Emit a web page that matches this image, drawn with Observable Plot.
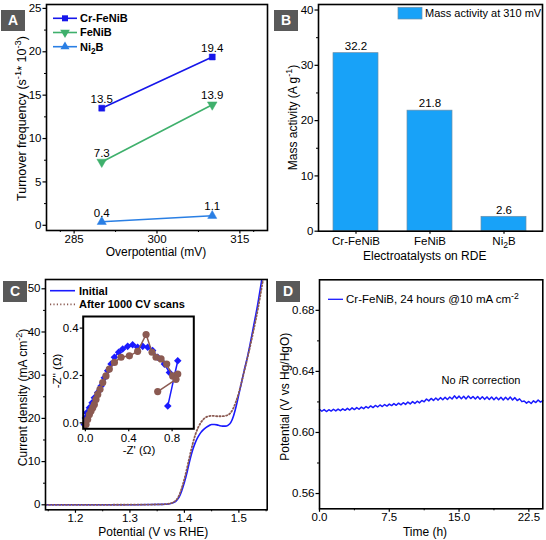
<!DOCTYPE html>
<html>
<head>
<meta charset="utf-8">
<script src="https://cdn.jsdelivr.net/npm/d3@7"></script>
<script src="https://cdn.jsdelivr.net/npm/@observablehq/plot@0.6"></script>
<style>
  body { margin: 0; background: #fff; }
  #fig { position: relative; width: 546px; height: 540px; overflow: hidden;
         font-family: "Liberation Sans", Arial, Helvetica, sans-serif; }
  .tag { position: absolute; width: 24px; height: 21px; background: #595959; color: #fff;
         font: bold 14px "Liberation Sans", Arial, sans-serif; text-align: center; line-height: 21px; }
</style>
</head>
<body>
<div id="fig"></div>
<script>
// ---------- A: turnover frequency vs overpotential ----------
const overpotentials = [290, 310];
const tofCrFeNiB = [13.5, 19.4];
const tofFeNiB = [7.3, 13.9];
const tofNi2B = [0.4, 1.1];
const tofTicks = [0, 5, 10, 15, 20, 25];
const overpotentialTicks = [285, 300, 315];

// ---------- B: mass activity at 310 mV ----------
const catalysts = ["Cr-FeNiB", "FeNiB", "Ni₂B"];
const massActivity = [32.2, 21.8, 2.6];
const massTicks = [0, 10, 20, 30, 40];

// ---------- C: polarization curves before / after cycling ----------
const lsvPotential = [1.145, 1.2, 1.25, 1.3, 1.34, 1.36, 1.37, 1.375, 1.38, 1.385, 1.39, 1.395, 1.4, 1.405, 1.41,
  1.415, 1.42, 1.425, 1.43, 1.435, 1.44, 1.445, 1.45, 1.455, 1.46, 1.465, 1.47, 1.475, 1.48, 1.485, 1.49,
  1.495, 1.5, 1.505, 1.51, 1.515, 1.52, 1.525, 1.53, 1.535, 1.54, 1.545, 1.55, 1.555];
const lsvInitial = [0, 0, 0, 0.02, 0.05, 0.1, 0.2, 0.3, 0.5, 0.9, 1.7, 3.2, 5.2, 7.6, 10.3,
  12.6, 14.4, 15.7, 16.7, 17.4, 17.9, 18.3, 18.6, 18.6, 18.5, 18.3, 18.2, 18.2, 18.4, 19.0, 20.5,
  22.8, 25.6, 28.4, 31.2, 33.8, 36.8, 40.0, 43.3, 46.7, 50.5, 54.5, 58.5, 62.5];
const lsvAfter = [0, 0, 0, 0.02, 0.06, 0.12, 0.22, 0.35, 0.6, 1.1, 2.1, 3.8, 6.0, 8.6, 11.4,
  14.0, 16.2, 17.8, 19.0, 19.8, 20.3, 20.5, 20.6, 20.6, 20.5, 20.5, 20.5, 20.6, 20.8, 21.3, 22.4,
  24.0, 26.0, 28.4, 31.0, 33.6, 36.3, 39.2, 42.2, 45.4, 48.9, 52.6, 56.5, 60.5];
const potentialTicks = [1.2, 1.3, 1.4, 1.5];
const currentTicks = [0, 10, 20, 30, 40, 50];

// inset: Nyquist plots (-Z' vs -Z'')
const zReInitial = [-0.01, 0.0, 0.012, 0.037, 0.062, 0.083, 0.114, 0.145, 0.175, 0.206, 0.237, 0.268, 0.307,
  0.344, 0.39, 0.436, 0.482, 0.529, 0.575, 0.62, 0.667, 0.729, 0.775, 0.82, 0.852, 0.76];
const zImInitial = [-0.007, 0.021, 0.043, 0.064, 0.085, 0.106, 0.128, 0.156, 0.19, 0.22, 0.248, 0.277, 0.298,
  0.312, 0.323, 0.33, 0.319, 0.323, 0.319, 0.305, 0.277, 0.248, 0.213, 0.198, 0.262, 0.071];
const zReAfter = [0.006, 0.021, 0.037, 0.052, 0.068, 0.083, 0.098, 0.114, 0.135, 0.16, 0.19, 0.221, 0.268,
  0.329, 0.406, 0.482, 0.56, 0.615, 0.652, 0.698, 0.75, 0.805, 0.852, 0.836, 0.667];
const zImAfter = [-0.007, 0.014, 0.035, 0.05, 0.064, 0.078, 0.099, 0.12, 0.142, 0.17, 0.198, 0.227, 0.255,
  0.277, 0.283, 0.302, 0.373, 0.298, 0.277, 0.27, 0.248, 0.198, 0.206, 0.184, 0.132];
const zReTicks = [0, 0.4, 0.8];
const zImTicks = [0, 0.2, 0.4];

// ---------- D: chronopotentiometry at 10 mA cm-2 ----------
const timeHours = [0, 0.25, 0.5, 0.75, 1, 1.25, 1.5, 1.75, 2, 2.25, 2.5, 2.75, 3, 3.25, 3.5, 3.75,
  4, 4.25, 4.5, 4.75, 5, 5.25, 5.5, 5.75, 6, 6.25, 6.5, 6.75, 7, 7.25, 7.5, 7.75,
  8, 8.25, 8.5, 8.75, 9, 9.25, 9.5, 9.75, 10, 10.25, 10.5, 10.75, 11, 11.25, 11.5, 11.75,
  12, 12.25, 12.5, 12.75, 13, 13.25, 13.5, 13.75, 14, 14.25, 14.5, 14.75, 15, 15.25, 15.5, 15.75,
  16, 16.25, 16.5, 16.75, 17, 17.25, 17.5, 17.75, 18, 18.25, 18.5, 18.75, 19, 19.25, 19.5, 19.75,
  20, 20.25, 20.5, 20.75, 21, 21.25, 21.5, 21.75, 22, 22.25, 22.5, 22.75, 23, 23.25, 23.5, 23.75, 24];
const potentialHgO = [
  0.6151, 0.6139, 0.6150, 0.6137, 0.6149, 0.6140, 0.6152, 0.6141, 0.6153,
  0.6143, 0.6155, 0.6145, 0.6158, 0.6147, 0.6161, 0.6150, 0.6163, 0.6152, 0.6166, 0.6156, 0.6170,
  0.6160, 0.6174, 0.6163, 0.6177, 0.6167, 0.6180, 0.6170, 0.6183, 0.6173, 0.6186, 0.6176, 0.6189,
  0.6178, 0.6192, 0.6181, 0.6195, 0.6184, 0.6199, 0.6187, 0.6202, 0.6190, 0.6205, 0.6194, 0.6210,
  0.6201, 0.6219, 0.6207, 0.6223, 0.6210, 0.6226, 0.6212, 0.6228, 0.6214, 0.6230, 0.6216, 0.6232,
  0.6219, 0.6240, 0.6222, 0.6238, 0.6221, 0.6237, 0.6220, 0.6239, 0.6222, 0.6236, 0.6219, 0.6235,
  0.6218, 0.6234, 0.6217, 0.6233, 0.6216, 0.6232, 0.6215, 0.6231, 0.6214, 0.6230, 0.6213, 0.6231,
  0.6215, 0.6232, 0.6213, 0.6228, 0.6209, 0.6220, 0.6202, 0.6206, 0.6192, 0.6203, 0.6190, 0.6207,
  0.6196, 0.6213, 0.6199, 0.6209];
const timeTicks = [0, 7.5, 15, 22.5];
const potentialHgOTicks = [0.56, 0.60, 0.64, 0.68];

// ---------- shared helpers ----------
const FONT = '"Liberation Sans", Arial, Helvetica, sans-serif';
const BLUE = "#1a1aff";
const BROWN = "#8b5a52";
const fig = document.getElementById("fig");
const baseStyle = {fontFamily: FONT, fontSize: "11.5px", color: "#000", background: "transparent", overflow: "visible"};

function mount(node, left, top) {
  node.style.position = "absolute";
  node.style.left = left + "px";
  node.style.top = top + "px";
  fig.appendChild(node);
  return node;
}

// writes [text, kind] parts into a text element; kind: "" | "sup" | "sub" | "it"
function fillParts(t, parts, size) {
  let shift = 0;
  for (const [s, kind] of parts) {
    const target = kind === "sup" ? -0.4 * size : kind === "sub" ? 0.3 * size : 0;
    const span = t.append("tspan").text(s);
    if (target - shift !== 0) span.attr("dy", target - shift);
    if (kind === "sup" || kind === "sub") span.attr("font-size", size * 0.75);
    if (kind === "it") span.attr("font-style", "italic");
    shift = target;
  }
}

function richText(svg, {x, y, parts, size = 12, weight = "normal", anchor = "middle", rotate = 0}) {
  const t = d3.select(svg).append("text")
    .attr("transform", `translate(${x},${y}) rotate(${rotate}) translate(0,${0.35 * size})`)
    .attr("text-anchor", anchor)
    .attr("font-family", FONT).attr("font-size", size).attr("font-weight", weight).attr("fill", "#000");
  fillParts(t, parts, size);
  return t;
}

function axes({xTicks, xMinor, xFormat, yTicks, yMinor, yFormat, xPad = 2}) {
  return [
    Plot.axisX({ticks: xTicks, tickSize: 3.5, tickPadding: xPad, tickFormat: xFormat, strokeWidth: 1.2}),
    ...(xMinor ? [Plot.axisX({ticks: xMinor, tickSize: 2, tickFormat: () => "", strokeWidth: 1})] : []),
    Plot.axisY({ticks: yTicks, tickSize: 3.5, tickPadding: 1.5, tickFormat: yFormat, strokeWidth: 1.2}),
    ...(yMinor ? [Plot.axisY({ticks: yMinor, tickSize: 2, tickFormat: () => "", strokeWidth: 1})] : [])
  ];
}

function tag(letter, left, top) {
  const d = document.createElement("div");
  d.className = "tag";
  d.textContent = letter;
  d.style.left = left + "px";
  d.style.top = top + "px";
  fig.appendChild(d);
}

// downward-pointing triangle symbol
const symbolTriangleDown = {
  draw(context, size) {
    const y = -Math.sqrt(size / (Math.sqrt(3) * 3));
    context.moveTo(0, -y * 2);
    context.lineTo(-Math.sqrt(3) * y, y);
    context.lineTo(Math.sqrt(3) * y, y);
    context.closePath();
  }
};

// ---------- panel A ----------
const seriesA = [
  {label: [["Cr-FeNiB", ""]], values: tofCrFeNiB, color: "#1616ea", symbol: d3.symbolSquare, size: 36},
  {label: [["FeNiB", ""]], values: tofFeNiB, color: "#3fb06c", symbol: symbolTriangleDown, size: 40},
  {label: [["Ni", ""], ["2", "sub"], ["B", ""]], values: tofNi2B, color: "#2a7fe4", symbol: d3.symbolTriangle, size: 36}
].map(s => ({...s, rows: overpotentials.map((x, i) => ({x, y: s.values[i]}))}));

const panelA = Plot.plot({
  width: 273, height: 270,
  marginLeft: 46, marginRight: 6, marginTop: 4, marginBottom: 40,
  style: baseStyle,
  x: {domain: [280, 320], label: null},
  y: {domain: [-0.6, 25.45], label: null},
  marks: [
    ...seriesA.flatMap(s => [
      Plot.line(s.rows, {x: "x", y: "y", stroke: s.color, strokeWidth: 1.6}),
      Plot.dot(s.rows, {x: "x", y: "y", fill: s.color, stroke: s.color, strokeWidth: 0.5, symbol: s.symbol, r: Math.sqrt(s.size / Math.PI)}),
      Plot.text(s.rows, {x: "x", y: "y", text: d => d.y.toFixed(1), dy: -9, fontSize: 11.5})
    ]),
    ...axes({xTicks: overpotentialTicks, xMinor: [282.5, 292.5, 307.5, 317.5], yTicks: tofTicks,
             yMinor: [2.5, 7.5, 12.5, 17.5, 22.5], xPad: 1}),
    Plot.frame({stroke: "#000", strokeWidth: 1.6})
  ]
});
mount(panelA, 0, 0);
{
  const g = d3.select(panelA).append("g");
  seriesA.forEach((s, i) => {
    const y = 18.3 + i * 14.2;
    g.append("line").attr("x1", 53).attr("x2", 77).attr("y1", y).attr("y2", y)
      .attr("stroke", s.color).attr("stroke-width", 1.6);
    g.append("path").attr("transform", `translate(65,${y})`)
      .attr("d", d3.symbol(s.symbol, s.size)()).attr("fill", s.color);
    richText(panelA, {x: 80, y, parts: s.label, size: 11, weight: "bold", anchor: "start"});
  });
  richText(panelA, {x: 21.5, y: 118.5, rotate: -90, size: 12.5,
    parts: [["Turnover frequency (s", ""], ["-1", "sup"], ["* 10", ""], ["-3", "sup"], [")", ""]]});
  richText(panelA, {x: 156, y: 251.5, parts: [["Overpotential (mV)", ""]]});
}

// ---------- panel B ----------
const rowsB = catalysts.map((c, i) => ({c, v: massActivity[i]}));
const BAR = "#18a2f8";
const panelB = Plot.plot({
  width: 273, height: 270,
  marginLeft: 45, marginRight: 4, marginTop: 4, marginBottom: 39.3,
  style: baseStyle,
  x: {type: "band", domain: catalysts, paddingInner: 0.39, paddingOuter: 0.2, label: null},
  y: {domain: [0, 41], label: null},
  marks: [
    Plot.barY(rowsB, {x: "c", y: "v", fill: BAR, stroke: "#6c8fa8", strokeWidth: 0.7}),
    Plot.text(rowsB, {x: "c", y: "v", text: d => d.v.toFixed(1), dy: -7, fontSize: 11.5}),
    Plot.axisX({tickSize: 3, tickPadding: 2.5, strokeWidth: 1.2}),
    Plot.axisY({ticks: massTicks, tickSize: 3.5, tickPadding: 1.5, strokeWidth: 1.2}),
    Plot.axisY({ticks: [5, 15, 25, 35], tickSize: 2, tickFormat: () => "", strokeWidth: 1}),
    Plot.frame({stroke: "#000", strokeWidth: 1.6})
  ]
});
mount(panelB, 273, 0);
{
  const svg = d3.select(panelB);
  svg.selectAll("text").filter(function () { return this.textContent === "Ni₂B"; })
    .each(function () {
      const t = d3.select(this);
      t.text("");
      fillParts(t, [["Ni", ""], ["2", "sub"], ["B", ""]], 11.5);
    });
  svg.append("rect").attr("x", 125).attr("y", 7.3).attr("width", 24).attr("height", 11.7)
    .attr("fill", BAR).attr("stroke", "#6c8fa8").attr("stroke-width", 0.7);
  richText(panelB, {x: 152, y: 13.2, parts: [["Mass activity at 310 mV", ""]], size: 11, anchor: "start"});
  richText(panelB, {x: 20, y: 117.5, rotate: -90, parts: [["Mass activity (A g", ""], ["-1", "sup"], [")", ""]]});
  richText(panelB, {x: 151.7, y: 256, parts: [["Electroatalysts on RDE", ""]]});
}

// ---------- panel C ----------
const rowsInitial = lsvPotential.map((p, i) => ({p, j: lsvInitial[i]}));
const rowsAfter = lsvPotential.map((p, i) => ({p, j: lsvAfter[i]}));
const panelC = Plot.plot({
  width: 273, height: 270,
  marginLeft: 45, marginRight: 6.3, marginTop: 9, marginBottom: 30.7,
  style: baseStyle,
  x: {domain: [1.145, 1.552], label: null},
  y: {domain: [-1.16, 52.15], label: null},
  marks: [
    Plot.line(rowsInitial, {x: "p", y: "j", stroke: BLUE, strokeWidth: 1.6, curve: "monotone-x", clip: true}),
    Plot.line(rowsAfter, {x: "p", y: "j", stroke: BROWN, strokeWidth: 1.8, strokeDasharray: "1.2,2.2",
                          curve: "monotone-x", clip: true}),
    ...axes({xTicks: potentialTicks, xMinor: [1.15, 1.25, 1.35, 1.45, 1.55], xFormat: d3.format(".1f"),
             yTicks: currentTicks, yMinor: [5, 15, 25, 35, 45], xPad: 1}),
    Plot.frame({stroke: "#000", strokeWidth: 1.6})
  ]
});
mount(panelC, 0, 270);
{
  const g = d3.select(panelC).append("g");
  g.append("line").attr("x1", 50).attr("x2", 75).attr("y1", 20.7).attr("y2", 20.7)
    .attr("stroke", BLUE).attr("stroke-width", 1.6);
  g.append("line").attr("x1", 50).attr("x2", 75).attr("y1", 34.3).attr("y2", 34.3)
    .attr("stroke", BROWN).attr("stroke-width", 1.8).attr("stroke-dasharray", "1.2,2.2");
  richText(panelC, {x: 79, y: 20.7, parts: [["Initial", ""]], size: 11, weight: "bold", anchor: "start"});
  richText(panelC, {x: 79, y: 34.3, parts: [["After 1000 CV scans", ""]], size: 11, weight: "bold", anchor: "start"});
  richText(panelC, {x: 22.7, y: 127.5, rotate: -90,
    parts: [["Current density (mA cm", ""], ["-2", "sup"], [")", ""]]});
  richText(panelC, {x: 153.3, y: 261.5, parts: [["Potential (V vs RHE)", ""]]});
}

// inset Nyquist plot
const nyqInitial = zReInitial.map((x, i) => ({x, y: zImInitial[i]}));
const nyqAfter = zReAfter.map((x, i) => ({x, y: zImAfter[i]}));
const inset = Plot.plot({
  width: 146, height: 150,
  marginLeft: 30.7, marginRight: 4.7, marginTop: 6, marginBottom: 31.7,
  style: baseStyle,
  x: {domain: [-0.02, 1.0], label: null},
  y: {domain: [-0.025, 0.449], label: null},
  marks: [
    Plot.frame({fill: "#fff", stroke: null}),
    Plot.line(nyqInitial, {x: "x", y: "y", stroke: BLUE, strokeWidth: 1.5}),
    Plot.dot(nyqInitial, {x: "x", y: "y", symbol: "diamond2", fill: BLUE, r: 3.4}),
    Plot.line(nyqAfter, {x: "x", y: "y", stroke: BROWN, strokeWidth: 1.5}),
    Plot.dot(nyqAfter, {x: "x", y: "y", fill: BROWN, r: 3.6}),
    Plot.axisX({ticks: zReTicks, tickSize: 3, tickPadding: 2, tickFormat: d3.format(".1f"), strokeWidth: 1.2}),
    Plot.axisY({ticks: zImTicks, tickSize: 3, tickPadding: 1.5, tickFormat: d3.format(".1f"), strokeWidth: 1.2}),
    Plot.frame({stroke: "#000", strokeWidth: 2})
  ]
});
mount(inset, 52, 310);
richText(inset, {x: 4.5, y: 61, rotate: -90, parts: [["-Z'' (Ω)", ""]], size: 11.5});
richText(inset, {x: 87, y: 140, parts: [["-Z' (Ω)", ""]], size: 11.5});

// ---------- panel D ----------
const rowsD = timeHours.map((t, i) => ({t, e: potentialHgO[i]}));
const panelD = Plot.plot({
  width: 273, height: 270,
  marginLeft: 46, marginRight: 3.7, marginTop: 9.3, marginBottom: 31.7,
  style: baseStyle,
  x: {domain: [0, 24], label: null},
  y: {domain: [0.55, 0.70], label: null},
  marks: [
    Plot.line(rowsD, {x: "t", y: "e", stroke: BLUE, strokeWidth: 1.5}),
    ...axes({xTicks: timeTicks, xMinor: [3.75, 11.25, 18.75], xFormat: d3.format(".1f"),
             yTicks: potentialHgOTicks, yMinor: [0.58, 0.62, 0.66], yFormat: d3.format(".2f"), xPad: 1}),
    Plot.frame({stroke: "#000", strokeWidth: 1.6})
  ]
});
mount(panelD, 273, 270);
{
  d3.select(panelD).append("line").attr("x1", 55).attr("x2", 70).attr("y1", 29.3).attr("y2", 29.3)
    .attr("stroke", BLUE).attr("stroke-width", 1.3);
  richText(panelD, {x: 73, y: 29.3, anchor: "start", size: 11.5,
    parts: [["Cr-FeNiB, 24 hours @10 mA cm", ""], ["-2", "sup"]]});
  richText(panelD, {x: 208, y: 110.5, size: 11, parts: [["No ", ""], ["i", "it"], ["R correction", ""]]});
  richText(panelD, {x: 11.7, y: 126.7, rotate: -90, parts: [["Potential (V vs Hg/HgO)", ""]]});
  richText(panelD, {x: 152, y: 261.5, parts: [["Time (h)", ""]]});
}

// panel letters
tag("A", 1, 10);
tag("B", 274, 10);
tag("C", 3, 281);
tag("D", 276, 281);
</script>
</body>
</html>
